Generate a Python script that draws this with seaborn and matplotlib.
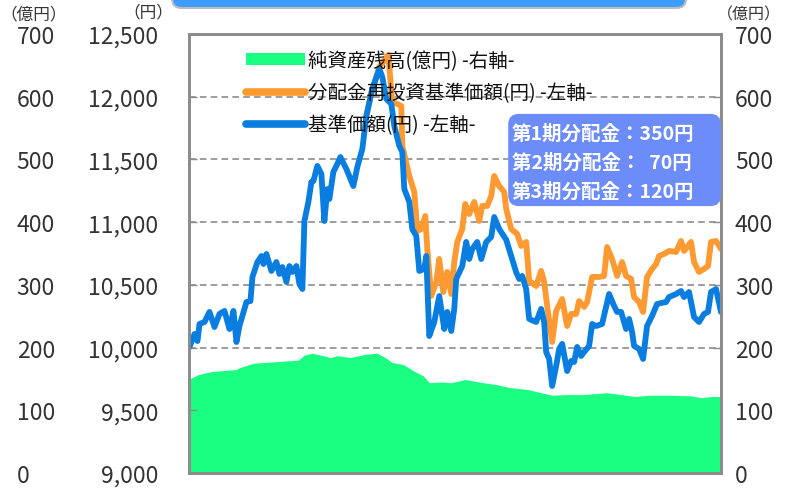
import matplotlib
matplotlib.use("Agg")
import matplotlib.pyplot as plt
import seaborn as sns
import pandas as pd
from matplotlib.patches import FancyBboxPatch, Patch
from matplotlib.lines import Line2D

# base price (円), x = trading-day position along the period
nav_day = [1, 6, 9, 11, 16, 21, 26, 31, 36, 41, 45, 48, 51, 58, 62, 64, 69, 73, 75, 78,
           83, 88, 91, 94, 98, 101, 104, 108, 111, 114, 116, 120, 123, 125, 129, 133, 136, 139, 141, 145,
           149, 152, 158, 165, 169, 174, 178, 184, 191, 194, 198, 203, 206, 211, 214, 216, 221, 224, 228, 231,
           236, 238, 241, 246, 251, 256, 259, 263, 266, 268, 274, 278, 281, 284, 289, 293, 298, 303, 306, 311,
           318, 323, 328, 331, 334, 338, 341, 348, 353, 356, 358, 361, 364, 368, 371, 374, 379, 383, 386, 389,
           393, 396, 401, 404, 408, 414, 421, 426, 429, 433, 438, 441, 444, 446, 451, 455, 459, 464, 469, 473,
           478, 481, 488, 493, 496, 501, 506, 511, 516, 520, 523, 528, 533]
nav = [10005, 10108, 10052, 10188, 10204, 10284, 10164, 10268, 10292, 10148, 10292, 10044, 10172, 10363, 10371, 10563, 10682, 10730, 10666, 10746,
       10611, 10682, 10587, 10642, 10523, 10650, 10603, 10650, 10507, 10467, 11009, 11161, 11320, 11328, 11448, 11384, 11009, 11264, 11185, 11400,
       11464, 11519, 11424, 11288, 11440, 11583, 11846, 12062, 12221, 12157, 11982, 11942, 11767, 11607, 11559, 11264, 11161, 10945, 10890, 10611,
       10627, 10730, 10092, 10204, 10411, 10148, 10284, 10132, 10308, 10547, 10650, 10842, 10706, 10786, 10842, 10706, 10842, 10882, 11041, 10945,
       10860, 10730, 10600, 10547, 10571, 10467, 10228, 10204, 10308, 10204, 9965, 9909, 9694, 9853, 9989, 10029, 9813, 9893, 9885, 10005,
       9933, 9965, 10013, 10188, 10172, 10188, 10427, 10332, 10284, 10284, 10148, 10228, 10124, 10013, 9989, 9909, 10172, 10252, 10347, 10355,
       10363, 10403, 10427, 10451, 10403, 10443, 10244, 10204, 10268, 10284, 10443, 10467, 10284]

# dividend-reinvested base price (円), same as nav before the first payout
reinv_day = [178, 184, 191, 195, 200, 204, 209, 213, 214, 221, 226, 229, 233, 237, 239, 243, 248, 251, 255, 259,
             263, 266, 269, 274, 277, 281, 286, 291, 294, 299, 303, 306, 311, 316, 318, 323, 329, 333, 338, 341,
             348, 353, 356, 359, 364, 368, 374, 379, 383, 388, 391, 396, 399, 404, 411, 416, 419, 424, 429, 434,
             438, 443, 446, 451, 455, 459, 464, 468, 471, 476, 481, 488, 493, 496, 503, 506, 511, 516, 520, 523,
             528, 533]
reinv_nav = [11846, 12062, 12237, 12277, 12333, 11958, 11942, 11926, 11607, 11368, 11240, 10929, 10945, 11049, 10786, 10411, 10523, 10706, 10443, 10603,
             10427, 10682, 10842, 10945, 11145, 11065, 11161, 11009, 11129, 11129, 11208, 11368, 11288, 11240, 11105, 10945, 10906, 10810, 10842, 10531,
             10491, 10611, 10523, 10332, 10044, 10292, 10387, 10172, 10268, 10268, 10371, 10324, 10363, 10563, 10563, 10571, 10802, 10706, 10571, 10682,
             10571, 10547, 10403, 10363, 10284, 10563, 10627, 10666, 10730, 10746, 10770, 10762, 10850, 10770, 10842, 10682, 10603, 10627, 10650, 10842,
             10850, 10786]

# net assets (億円)
aum_day = [1, 10, 24, 41, 48, 51, 65, 83, 110, 116, 124, 135, 142, 149, 162, 176, 189, 197, 204, 215,
           225, 235, 241, 253, 263, 277, 291, 308, 322, 340, 353, 364, 378, 395, 419, 433, 447, 461, 482, 503,
           513, 524, 533]
aum = [150, 157, 162, 164, 165, 168, 175, 177, 180, 188, 191, 187, 184, 187, 184, 189, 191, 184, 176, 173,
       163, 155, 144, 145, 144, 149, 145, 141, 136, 133, 128, 124, 125, 125, 128, 125, 122, 124, 124, 123,
       120, 122, 122]

price_ticks = [9000, 9500, 10000, 10500, 11000, 11500, 12000, 12500]
aum_ticks = [0, 100, 200, 300, 400, 500, 600, 700]
legend_labels = ["純資産残高(億円) -右軸-", "分配金再投資基準価額(円) -左軸-", "基準価額(円) -左軸-"]
dividend_text = ["第1期分配金：350円", "第2期分配金：  70円", "第3期分配金：120円"]

GREEN = "#1AFF82"
ORANGE = "#FF9A33"
BLUE = "#0A7EE0"
GRAY = "#8C8C8C"
TXT = "#333333"

sns.set_theme(style="white")
plt.rcParams["font.family"] = ["Noto Sans CJK JP", "DejaVu Sans"]

df_nav = pd.DataFrame({"day": nav_day, "price": nav})
df_reinv = pd.DataFrame({"day": reinv_day, "price": reinv_nav})

fig = plt.figure(figsize=(7.87, 4.89), dpi=100, facecolor="white")
ax = fig.add_axes([189 / 787, 15 / 489, 532 / 787, 439 / 489])
ax2 = ax.twinx()
ax.set_zorder(3)
ax.patch.set_visible(False)
ax2.patch.set_visible(True)
ax2.patch.set_facecolor("white")

# area: net assets on the right axis
ax2.fill_between(aum_day, aum, 0, color=GREEN, lw=0, zorder=2)
ax2.set_ylim(0, 700)
ax2.set_yticks(aum_ticks)
ax2.set_axisbelow(True)
ax2.grid(axis="y", color=GRAY, linestyle=(0, (4, 2.5)), linewidth=1.2)

# lines: prices on the left axis
sns.lineplot(data=df_reinv, x="day", y="price", ax=ax, color=ORANGE, linewidth=4.2)
sns.lineplot(data=df_nav, x="day", y="price", ax=ax, color=BLUE, linewidth=4.2)
ax.set_ylim(9000, 12500)
ax.set_yticks(price_ticks)
ax.set_yticklabels([f"{v:,}" for v in price_ticks])
ax.set_xlim(0.5, 533)
ax.set_xticks([])
ax.set_xlabel("")
ax.set_ylabel("")

for a in (ax, ax2):
    for s in a.spines.values():
        s.set_color(GRAY)
        s.set_linewidth(2)
ax.tick_params(axis="y", direction="in", length=6, width=1, color=GRAY,
               labelsize=16.5, labelcolor=TXT, pad=22)
ax2.tick_params(axis="y", direction="in", length=6, width=1, color=GRAY,
                labelsize=16.5, labelcolor=TXT, pad=10)

# outer left copy of the 億円 scale
ax3 = ax.twinx()
ax3.set_ylim(0, 700)
ax3.set_yticks(aum_ticks)
ax3.yaxis.set_ticks_position("left")
ax3.yaxis.set_label_position("left")
ax3.spines["left"].set_position(("outward", 124))
for s in ax3.spines.values():
    s.set_visible(False)
ax3.tick_params(axis="y", length=0, pad=0, labelsize=16.5, labelcolor=TXT)
for t in ax3.yaxis.get_major_ticks():
    t.label1.set_horizontalalignment("left")

# unit labels
fig.text(34 / 787, 1 - 15 / 489, "（億円）", ha="center", va="center", fontsize=12, color=TXT)
fig.text(148 / 787, 1 - 13 / 489, "（円）", ha="center", va="center", fontsize=12, color=TXT)
fig.text(749 / 787, 1 - 15 / 489, "（億円）", ha="center", va="center", fontsize=11.5, color=TXT)

# legend
handles = [Patch(facecolor=GREEN, edgecolor="none"),
           Line2D([], [], color=ORANGE, lw=5.5),
           Line2D([], [], color=BLUE, lw=5.5)]
ax.legend(handles, legend_labels, loc="upper left", bbox_to_anchor=(0.108, 0.964),
          frameon=False, fontsize=14, handlelength=3.0, handleheight=0.62,
          handletextpad=0.15, labelspacing=0.58, borderpad=0, borderaxespad=0,
          labelcolor="#111111")

# dividend box
box = FancyBboxPatch((0.60, 0.608), 0.40, 0.21, boxstyle="round,pad=0,rounding_size=0.02",
                     mutation_aspect=532 / 439, transform=ax.transAxes, fc="#6C8CFA", ec="none",
                     zorder=9, clip_on=False)
ax.add_patch(box)
for i, line in enumerate(dividend_text):
    ax.text(0.607, 0.775 - i * 0.066, line, transform=ax.transAxes, ha="left", va="center",
            fontsize=14, fontweight="bold", color="white", zorder=10)

# title banner (cut off at top)
banner = FancyBboxPatch((172 / 787, 1 - 9 / 489), (686 - 172) / 787, 0.1,
                        boxstyle="round,pad=0,rounding_size=0.012", mutation_aspect=787 / 489,
                        transform=fig.transFigure, fc="#3C9CFF", ec="#BDBDBD", lw=1.5, clip_on=False)
fig.add_artist(banner)

fig.savefig("out.png", dpi=100, facecolor="white")
